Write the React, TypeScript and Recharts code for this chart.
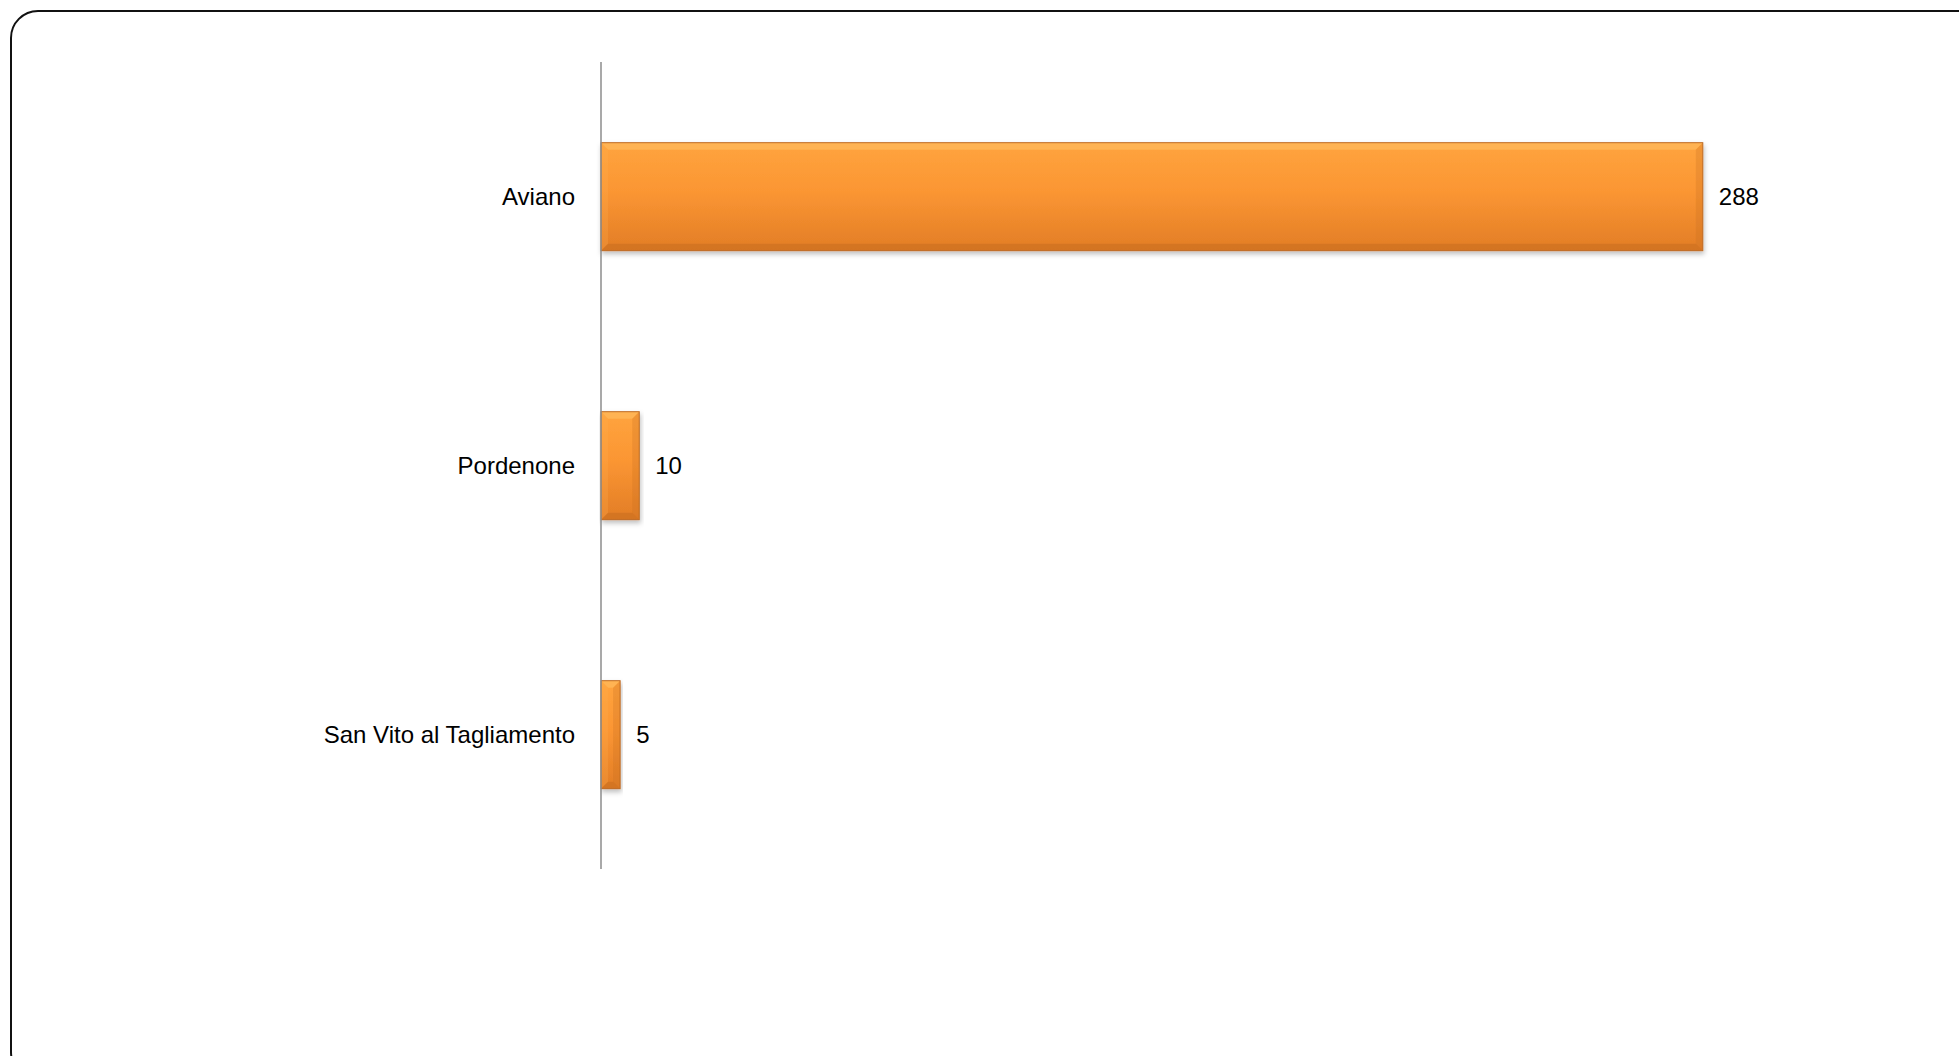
import { BarChart, Bar, XAxis, YAxis, LabelList } from 'recharts';

const comuni = ['Aviano', 'Pordenone', 'San Vito al Tagliamento'];
const valori = [288, 10, 5];

const data = comuni.map((name, i) => ({ name, value: valori[i] }));

const FONT = "'Liberation Sans', Arial, sans-serif";

// bevelled orange bar, like the office 3D-ish preset
function BevelBar(props: any) {
  const { x, y, width, height } = props;
  if (!width || width <= 0) return null;
  const b = Math.min(7, width / 2, height / 2);
  const r = x + width;
  const btm = y + height;
  return (
    <g filter="url(#barShadow)">
      <rect x={x} y={y} width={width} height={height} fill="url(#barFill)" />
      {/* top bevel */}
      <polygon points={`${x},${y} ${r},${y} ${r - b},${y + b} ${x + b},${y + b}`} fill="#FFC468" opacity={0.5} />
      {/* bottom bevel */}
      <polygon points={`${x},${btm} ${r},${btm} ${r - b},${btm - b} ${x + b},${btm - b}`} fill="#B8621C" opacity={0.35} />
      {/* left bevel */}
      <polygon points={`${x},${y} ${x + b},${y + b} ${x + b},${btm - b} ${x},${btm}`} fill="#FFB050" opacity={0.25} />
      {/* right bevel */}
      <polygon points={`${r},${y} ${r - b},${y + b} ${r - b},${btm - b} ${r},${btm}`} fill="#C46A1E" opacity={0.25} />
      <rect x={x} y={y} width={width} height={height} fill="none" stroke="#BE6A22" strokeWidth={1} />
    </g>
  );
}

export default function App() {
  return (
    <div style={{ position: 'absolute', left: 0, top: 0, width: 1959, height: 1056, overflow: 'hidden', background: '#fff' }}>
      <div
        style={{
          position: 'absolute',
          left: 10,
          top: 10,
          width: 1975,
          height: 1070,
          border: '2.5px solid #111',
          borderRadius: 28,
          boxSizing: 'border-box',
        }}
      />
      <div style={{ position: 'absolute', left: 0, top: 0 }}>
        <BarChart
          width={1959}
          height={1056}
          data={data}
          layout="vertical"
          margin={{ top: 62, right: 19, bottom: 187, left: 0 }}
          barCategoryGap="30%"
        >
          <defs>
            <linearGradient id="barFill" x1="0" y1="0" x2="0" y2="1">
              <stop offset="0%" stopColor="#FFA43E" />
              <stop offset="45%" stopColor="#FB9633" />
              <stop offset="100%" stopColor="#E27D26" />
            </linearGradient>
            <filter id="barShadow" x="-5%" y="-20%" width="115%" height="150%">
              <feDropShadow dx="1" dy="3" stdDeviation="2.5" floodColor="#000" floodOpacity="0.25" />
            </filter>
          </defs>
          <XAxis type="number" domain={[0, 350]} hide />
          <YAxis
            type="category"
            dataKey="name"
            width={601}
            axisLine={{ stroke: '#8c8c8c', strokeWidth: 1.5 }}
            tickLine={false}
            tickSize={0}
            tickMargin={26}
            tick={{ fill: '#000', fontSize: 24, fontFamily: FONT }}
          />
          <Bar dataKey="value" shape={<BevelBar />} isAnimationActive={false}>
            <LabelList
              dataKey="value"
              position="right"
              offset={16}
              style={{ fill: '#000', fontSize: 24, fontFamily: FONT }}
            />
          </Bar>
        </BarChart>
      </div>
    </div>
  );
}
